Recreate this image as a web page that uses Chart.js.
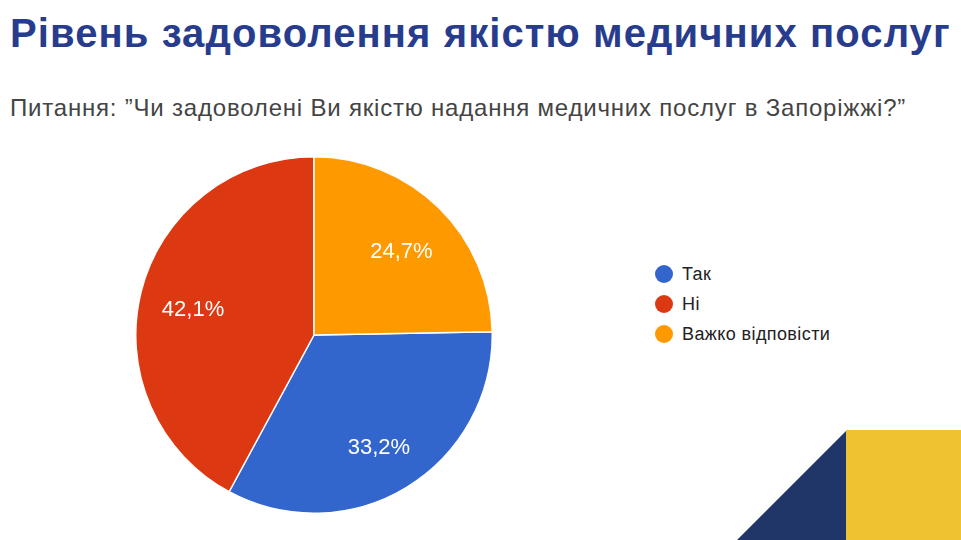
<!DOCTYPE html>
<html>
<head>
<meta charset="utf-8">
<script src="https://cdn.jsdelivr.net/npm/chart.js@4"></script>
<style>
  body { margin: 0; width: 961px; height: 540px; background: #fff; position: relative; overflow: hidden; font-family: "Liberation Sans", Arial, sans-serif; }
  h1 { position: absolute; left: 10px; top: 13px; margin: 0; font-size: 40px; letter-spacing: 1.1px; line-height: 1; font-weight: 700; color: #283c8e; white-space: nowrap; }
  #question { position: absolute; left: 10px; top: 96px; margin: 0; font-size: 24px; letter-spacing: 0.8px; line-height: 1; color: #444; white-space: nowrap; }
  #chartBox { position: absolute; left: 135px; top: 156px; width: 358px; height: 358px; }
  #legend { position: absolute; left: 655px; top: 265px; margin: 0; padding: 0; list-style: none; font-size: 18px; letter-spacing: 0.4px; line-height: 18px; color: #222; }
  #legend li { height: 30px; display: flex; align-items: flex-start; }
  #legend span.dot { width: 18px; height: 18px; border-radius: 50%; margin-right: 9px; }
  #tri { position: absolute; left: 737px; top: 430px; width: 110px; height: 110px; background: #213668; clip-path: polygon(100% 0, 100% 100%, 0 100%); }
  #block { position: absolute; left: 846px; top: 430px; width: 115px; height: 110px; background: #efc232; }
</style>
</head>
<body>
<h1>Рівень задоволення якістю медичних послуг</h1>
<p id="question">Питання: ”Чи задоволені Ви якістю надання медичних послуг в Запоріжжі?”</p>
<div id="chartBox"><canvas id="canvas" width="358" height="358"></canvas></div>
<ul id="legend"></ul>
<div id="tri"></div>
<div id="block"></div>
<script>
const labels = ['Так', 'Ні', 'Важко відповісти'];
const values = [33.2, 42.1, 24.7];
const colors = ['#3366cc', '#dc3912', '#ff9900'];

// first slice (Так) starts where the last one ends, so orange sits at 12 o'clock
const startAngle = values[2] / 100 * 360;

// percentage text inside each slice
const sliceLabels = {
    id: 'sliceLabels',
    afterDatasetsDraw(chart) {
        const ctx = chart.ctx;
        const arcs = chart.getDatasetMeta(0).data;
        ctx.save();
        ctx.font = '22px "Liberation Sans", Arial, sans-serif';
        ctx.fillStyle = '#fff';
        ctx.textAlign = 'center';
        ctx.textBaseline = 'alphabetic';
        arcs.forEach(function(arc, i){
            const mid = (arc.startAngle + arc.endAngle) / 2;
            const r = arc.outerRadius * 0.7;
            // +12 puts the digits' visual centre a little below the ray point
            ctx.fillText(values[i].toFixed(1).replace('.', ',') + '%', arc.x + Math.cos(mid) * r, arc.y + Math.sin(mid) * r + 12);
        });
        ctx.restore();
    }
};

new Chart(document.getElementById('canvas'), {
    type: 'pie',
    data: {
        labels: labels,
        datasets: [{
            data: values,
            backgroundColor: colors,
            borderColor: '#fff',
            borderWidth: 1.5
        }]
    },
    options: {
        responsive: false,
        animation: false,
        rotation: startAngle,
        layout: { padding: 0 },
        plugins: {
            legend: { display: false },
            tooltip: { enabled: false }
        }
    },
    plugins: [sliceLabels]
});

//legend built from the same arrays
const legend = document.getElementById('legend');
labels.forEach(function(name, i){
    const li = document.createElement('li');
    li.innerHTML = '<span class="dot" style="background:' + colors[i] + '"></span>' + name;
    legend.appendChild(li);
});
</script>
</body>
</html>
